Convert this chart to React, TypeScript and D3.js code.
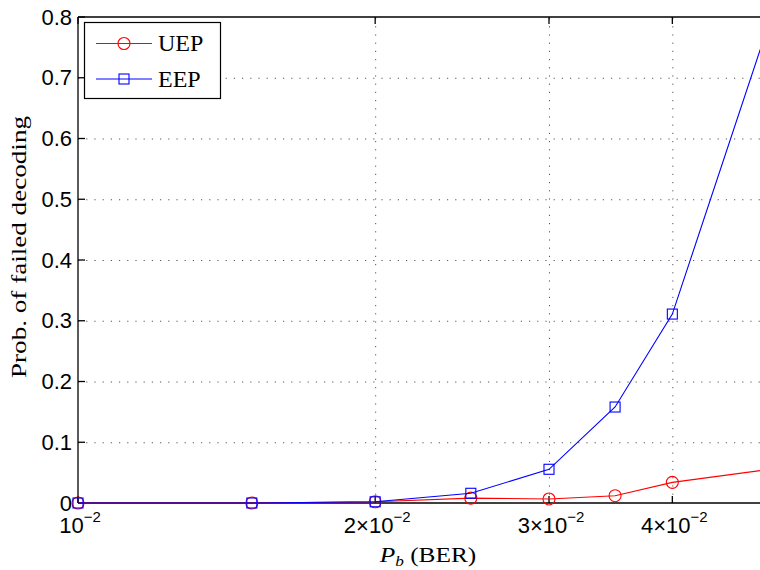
import React, { useRef, useEffect } from "react";
import * as d3 from "d3";

const berValues = [0.01, 0.015, 0.02, 0.025, 0.03, 0.035, 0.04, 0.05];
const uepValues = [0, 0, 0.002, 0.008, 0.0066, 0.012, 0.034, 0.055];
const eepValues = [0, 0, 0.002, 0.016, 0.0555, 0.158, 0.311, 0.785];
const xTicks = [0.01, 0.02, 0.03, 0.04];
const xTickMant = ["", "2", "3", "4"];
const yTicks = [0, 0.1, 0.2, 0.3, 0.4, 0.5, 0.6, 0.7, 0.8];
const seriesNames = ["UEP", "EEP"];

function App() {
  const svgRef = useRef<SVGSVGElement | null>(null);

  useEffect(() => {
    const width = 760;
    const height = 570;
    const left = 78;
    const right = 768;
    const top = 17;
    const bottom = 503;

    const svg = d3.select(svgRef.current);
    svg.selectAll("*").remove();
    svg.attr("width", width).attr("height", height);

    const x = d3.scaleLog().domain([0.01, 0.05]).range([left, right]);
    const y = d3.scaleLinear().domain([0, 0.8]).range([bottom, top]);

    const sans = "'Liberation Sans', Arial, sans-serif";
    const serif = "'Liberation Serif', 'Times New Roman', serif";

    svg.append("rect").attr("width", width).attr("height", height).attr("fill", "#fff");

    // grid
    const grid = svg.append("g").attr("stroke", "#555").attr("stroke-width", 1)
      .attr("stroke-dasharray", "1.2,7");
    grid.selectAll("line.h").data(yTicks.slice(1, -1)).enter().append("line")
      .attr("x1", left).attr("x2", right)
      .attr("y1", (d) => y(d) + 0.5).attr("y2", (d) => y(d) + 0.5);
    grid.selectAll("line.v").data(xTicks.slice(1)).enter().append("line")
      .attr("x1", (d) => x(d) + 0.5).attr("x2", (d) => x(d) + 0.5)
      .attr("y1", bottom).attr("y2", top);

    // axes frame
    const frame = svg.append("g").attr("stroke", "#000").attr("stroke-width", 1.3);
    frame.append("line").attr("x1", left).attr("x2", right).attr("y1", bottom).attr("y2", bottom);
    frame.append("line").attr("x1", left).attr("x2", right).attr("y1", top).attr("y2", top);
    frame.append("line").attr("x1", left).attr("x2", left).attr("y1", top).attr("y2", bottom);
    frame.selectAll("line.yt").data(yTicks).enter().append("line")
      .attr("x1", left).attr("x2", left + 7)
      .attr("y1", (d) => y(d)).attr("y2", (d) => y(d));
    frame.selectAll("line.xb").data(xTicks).enter().append("line")
      .attr("x1", (d) => x(d)).attr("x2", (d) => x(d))
      .attr("y1", bottom).attr("y2", bottom - 7);
    frame.selectAll("line.xt").data(xTicks).enter().append("line")
      .attr("x1", (d) => x(d)).attr("x2", (d) => x(d))
      .attr("y1", top).attr("y2", top + 7);

    // y tick labels
    svg.append("g").selectAll("text").data(yTicks).enter().append("text")
      .attr("x", left - 6).attr("y", (d) => y(d) + 7.5)
      .attr("text-anchor", "end")
      .style("font-family", sans).style("font-size", "22px")
      .text((d) => (d === 0 ? "0" : d3.format(".1f")(d)));

    // x tick labels
    const xl = svg.append("g").selectAll("text").data(xTicks).enter().append("text")
      .attr("x", (d) => x(d) + 2).attr("y", 533)
      .attr("text-anchor", "middle")
      .style("font-family", sans).style("font-size", "22px");
    xl.append("tspan").text((d, i) => (xTickMant[i] ? xTickMant[i] + "\u00d7" : "") + "10");
    xl.append("tspan").attr("dy", -11).style("font-size", "15px").text("\u22122");

    // axis titles
    const xt = svg.append("text")
      .attr("transform", "translate(428,562) scale(1.15,1)")
      .attr("text-anchor", "middle")
      .style("font-family", serif).style("font-size", "22px");
    xt.append("tspan").style("font-style", "italic").text("P");
    xt.append("tspan").attr("dy", 4).style("font-style", "italic").style("font-size", "15px").text("b");
    xt.append("tspan").attr("dy", -4).text(" (BER)");

    svg.append("text")
      .attr("transform", "translate(26,247) rotate(-90)")
      .attr("text-anchor", "middle")
      .attr("textLength", 262)
      .attr("lengthAdjust", "spacingAndGlyphs")
      .style("font-family", serif).style("font-size", "22px")
      .text("Prob. of failed decoding");

    // series
    const series = [
      { name: seriesNames[0], values: uepValues, color: "#ff0000", marker: "circle" },
      { name: seriesNames[1], values: eepValues, color: "#0000ff", marker: "square" },
    ];
    const line = d3.line<number>()
      .x((d, i) => x(berValues[i]))
      .y((d) => y(d));

    const drawMarker = (g: any, type: string, color: string) => {
      if (type === "circle") {
        g.append("circle").attr("r", 6).attr("fill", "none").attr("stroke", color).attr("stroke-width", 1.1);
      } else {
        g.append("rect").attr("x", -5).attr("y", -5).attr("width", 10).attr("height", 10)
          .attr("fill", "none").attr("stroke", color).attr("stroke-width", 1.1);
      }
    };

    series.forEach((s) => {
      svg.append("path").datum(s.values).attr("d", line)
        .attr("fill", "none").attr("stroke", s.color).attr("stroke-width", 1.1);
      s.values.forEach((v, i) => {
        const g = svg.append("g").attr("transform", `translate(${x(berValues[i])},${y(v)})`);
        drawMarker(g, s.marker, s.color);
      });
    });

    // legend
    const lg = svg.append("g");
    lg.append("rect").attr("x", 84.5).attr("y", 22.5).attr("width", 136).attr("height", 76)
      .attr("fill", "#fff").attr("stroke", "#000").attr("stroke-width", 1.2);
    series.forEach((s, i) => {
      const ly = 43.5 + i * 35.5;
      lg.append("line").attr("x1", 96).attr("x2", 152).attr("y1", ly).attr("y2", ly)
        .attr("stroke", s.color).attr("stroke-width", 1.1);
      const g = lg.append("g").attr("transform", `translate(124,${ly})`);
      drawMarker(g, s.marker, s.color);
      lg.append("text").attr("x", 158).attr("y", ly + 7.5)
        .style("font-family", serif).style("font-size", "24px")
        .text(s.name);
    });
  }, []);

  return (
    <svg ref={svgRef} style={{ position: "fixed", left: 0, top: 0, display: "block" }}></svg>
  );
}

export default App;
